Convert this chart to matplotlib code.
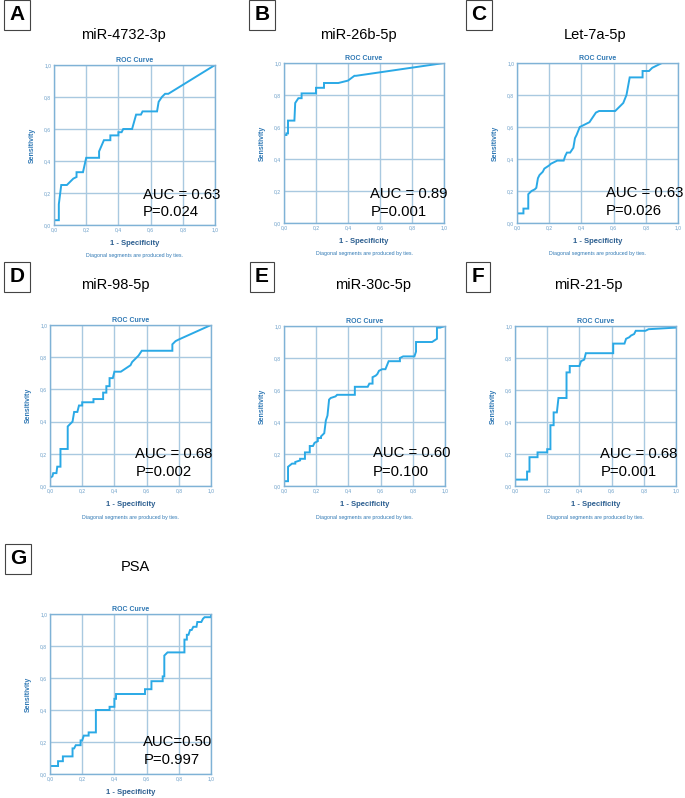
import matplotlib.pyplot as plt

W, H = 685, 798

labels = ['A', 'B', 'C', 'D', 'E', 'F', 'G']
names = ['miR-4732-3p', 'miR-26b-5p', 'Let-7a-5p', 'miR-98-5p', 'miR-30c-5p', 'miR-21-5p', 'PSA']
auc_text = ['AUC = 0.63', 'AUC = 0.89', 'AUC = 0.63', 'AUC = 0.68', 'AUC = 0.60', 'AUC = 0.68', 'AUC=0.50']
p_text = ['P=0.024', 'P=0.001', 'P=0.026', 'P=0.002', 'P=0.100', 'P=0.001', 'P=0.997']

# ROC curve vertices (1 - specificity, sensitivity)
fpr_a = [0, 0, 0.03, 0.03, 0.045, 0.08, 0.12, 0.14, 0.14, 0.18, 0.20, 0.28, 0.28, 0.31, 0.35, 0.35, 0.40, 0.40,
         0.42, 0.43, 0.485, 0.51, 0.54, 0.55, 0.64, 0.65, 0.67, 0.69, 0.71, 1.0]
tpr_a = [0, 0.03, 0.03, 0.13, 0.25, 0.25, 0.29, 0.30, 0.33, 0.33, 0.42, 0.42, 0.46, 0.53, 0.53, 0.56, 0.56, 0.58,
         0.58, 0.60, 0.60, 0.69, 0.69, 0.71, 0.71, 0.77, 0.80, 0.82, 0.82, 1.0]

fpr_b = [0, 0, 0.015, 0.015, 0.025, 0.025, 0.065, 0.07, 0.09, 0.11, 0.11, 0.20, 0.20, 0.25, 0.25, 0.34, 0.40,
         0.44, 0.45, 1.0]
tpr_b = [0, 0.55, 0.55, 0.56, 0.56, 0.64, 0.64, 0.75, 0.78, 0.78, 0.81, 0.81, 0.845, 0.845, 0.875, 0.875, 0.89,
         0.92, 0.92, 1.0]

fpr_c = [0, 0, 0.04, 0.04, 0.07, 0.07, 0.08, 0.09, 0.11, 0.12, 0.13, 0.14, 0.16, 0.17, 0.20, 0.21, 0.23, 0.25,
         0.29, 0.30, 0.31, 0.33, 0.35, 0.36, 0.37, 0.39, 0.45, 0.49, 0.51, 0.61, 0.63, 0.66, 0.68, 0.70, 0.78,
         0.78, 0.82, 0.84, 0.86, 0.88, 0.90, 1.0]
tpr_c = [0, 0.06, 0.06, 0.09, 0.09, 0.18, 0.19, 0.20, 0.21, 0.22, 0.28, 0.30, 0.32, 0.34, 0.36, 0.37, 0.38, 0.39,
         0.39, 0.42, 0.44, 0.44, 0.47, 0.53, 0.55, 0.60, 0.63, 0.69, 0.70, 0.70, 0.72, 0.75, 0.80, 0.91, 0.91,
         0.95, 0.95, 0.97, 0.98, 0.99, 1.0, 1.0]

fpr_d = [0, 0, 0.015, 0.02, 0.04, 0.045, 0.065, 0.065, 0.11, 0.11, 0.13, 0.14, 0.15, 0.17, 0.18, 0.20, 0.20,
         0.27, 0.27, 0.33, 0.33, 0.35, 0.35, 0.37, 0.37, 0.39, 0.40, 0.44, 0.50, 0.51, 0.55, 0.57, 0.76, 0.76,
         0.78, 0.80, 1.0]
tpr_d = [0, 0.05, 0.06, 0.08, 0.08, 0.12, 0.12, 0.23, 0.23, 0.37, 0.39, 0.40, 0.46, 0.46, 0.50, 0.50, 0.52,
         0.52, 0.54, 0.54, 0.58, 0.58, 0.62, 0.62, 0.67, 0.67, 0.71, 0.71, 0.75, 0.77, 0.81, 0.84, 0.84, 0.88,
         0.90, 0.91, 1.0]

fpr_e = [0, 0, 0.025, 0.025, 0.05, 0.07, 0.07, 0.10, 0.10, 0.13, 0.13, 0.16, 0.16, 0.18, 0.19, 0.21, 0.21,
         0.23, 0.23, 0.25, 0.26, 0.27, 0.28, 0.29, 0.32, 0.33, 0.44, 0.44, 0.52, 0.53, 0.55, 0.55, 0.57, 0.58,
         0.59, 0.61, 0.63, 0.65, 0.72, 0.72, 0.74, 0.81, 0.82, 0.82, 0.92, 0.95, 0.95, 0.97, 1.0]
tpr_e = [0, 0.03, 0.03, 0.12, 0.14, 0.14, 0.15, 0.16, 0.17, 0.17, 0.21, 0.21, 0.25, 0.25, 0.27, 0.28, 0.30,
         0.30, 0.31, 0.33, 0.41, 0.44, 0.54, 0.55, 0.56, 0.57, 0.57, 0.62, 0.62, 0.64, 0.64, 0.68, 0.69, 0.70,
         0.72, 0.73, 0.73, 0.78, 0.78, 0.80, 0.81, 0.81, 0.84, 0.90, 0.90, 0.92, 0.99, 0.99, 1.0]

fpr_f = [0, 0, 0.075, 0.075, 0.09, 0.09, 0.14, 0.14, 0.20, 0.20, 0.22, 0.22, 0.24, 0.24, 0.26, 0.27, 0.32,
         0.32, 0.34, 0.34, 0.40, 0.41, 0.43, 0.44, 0.61, 0.61, 0.68, 0.69, 0.71, 0.72, 0.74, 0.75, 0.81, 0.83, 1.0]
tpr_f = [0, 0.04, 0.04, 0.09, 0.09, 0.18, 0.18, 0.21, 0.21, 0.23, 0.23, 0.38, 0.38, 0.46, 0.46, 0.55, 0.55,
         0.71, 0.71, 0.75, 0.75, 0.78, 0.79, 0.83, 0.83, 0.89, 0.89, 0.92, 0.93, 0.94, 0.95, 0.97, 0.97, 0.98, 0.99]

fpr_g = [0, 0, 0.05, 0.05, 0.08, 0.08, 0.14, 0.14, 0.15, 0.16, 0.19, 0.19, 0.20, 0.21, 0.24, 0.24, 0.285, 0.285,
         0.37, 0.37, 0.40, 0.40, 0.41, 0.41, 0.59, 0.59, 0.63, 0.63, 0.70, 0.70, 0.71, 0.71, 0.73, 0.835, 0.835,
         0.85, 0.85, 0.86, 0.87, 0.88, 0.89, 0.91, 0.915, 0.94, 0.95, 0.96, 1.0, 1.0]
tpr_g = [0, 0.05, 0.05, 0.08, 0.08, 0.11, 0.11, 0.16, 0.16, 0.18, 0.18, 0.21, 0.21, 0.24, 0.24, 0.26, 0.26, 0.40,
         0.40, 0.42, 0.42, 0.47, 0.47, 0.50, 0.50, 0.53, 0.53, 0.58, 0.58, 0.61, 0.61, 0.74, 0.76, 0.76, 0.84,
         0.84, 0.87, 0.87, 0.90, 0.90, 0.92, 0.92, 0.95, 0.95, 0.97, 0.98, 0.98, 1.0]

fprs = [fpr_a, fpr_b, fpr_c, fpr_d, fpr_e, fpr_f, fpr_g]
tprs = [tpr_a, tpr_b, tpr_c, tpr_d, tpr_e, tpr_f, tpr_g]

ticks = [0, 0.2, 0.4, 0.6, 0.8, 1.0]
tick_labels = ['0,0', '0,2', '0,4', '0,6', '0,8', '1,0']

# layout in pixels: axes box (left, top, right, bottom), title centre, letter box centre
boxes = [(54, 65, 215, 225), (284, 63, 444, 223), (517, 63, 678, 223),
         (50, 325, 211, 486), (284, 326, 445, 486), (515, 326, 676, 486),
         (50, 614, 211, 774)]
title_pos = [(123, 35), (358, 35), (595, 35), (115, 285), (373, 285), (588, 285), (135, 567)]
letter_pos = [(17, 15), (262, 15), (479, 15), (17, 277), (262, 277), (478, 277), (18, 559)]
auc_pos = [(0.55, 0.19, 0.08), (0.54, 0.18, 0.07), (0.55, 0.19, 0.075), (0.53, 0.20, 0.09),
           (0.55, 0.205, 0.09), (0.53, 0.20, 0.09), (0.58, 0.20, 0.09)]

plt.rcParams['font.family'] = ['Liberation Sans', 'DejaVu Sans']

curve_col = '#2aa9e6'
grid_col = '#a9c9e0'
spine_col = '#7fb2d6'
text_col = '#2f78b4'

fig = plt.figure(figsize=(W / 100, H / 100), dpi=100)


def fx(px):
    return px / W


def fy(py):
    return 1 - py / H


for i in range(7):
    l, t, r, b = boxes[i]
    ax = fig.add_axes([fx(l), fy(b), fx(r) - fx(l), (b - t) / H])
    ax.plot(fprs[i], tprs[i], color=curve_col, lw=1.4, solid_joinstyle='miter')
    ax.set_xlim(0, 1)
    ax.set_ylim(0, 1)
    ax.set_xticks(ticks)
    ax.set_yticks(ticks)
    ax.set_xticklabels(tick_labels)
    ax.set_yticklabels(tick_labels)
    ax.tick_params(length=0, labelsize=3.6, labelcolor='#6a9ec8', pad=2)
    ax.grid(True, color=grid_col, lw=1.0)
    ax.set_axisbelow(True)
    for s in ax.spines.values():
        s.set_color(spine_col)
        s.set_linewidth(1.0)
    ax.set_title('ROC Curve', fontsize=5, fontweight='bold', color=text_col, pad=2)
    ax.set_ylabel('Sensitivity', fontsize=5, fontweight='bold', color=text_col, labelpad=6)
    ax.set_xlabel('1 - Specificity', fontsize=5.5, fontweight='bold', color='#2a5d8f', labelpad=5)

    ax_x, y1, y2 = auc_pos[i]
    ax.text(ax_x, y1, auc_text[i], transform=ax.transAxes, fontsize=10.7, va='center', ha='left', clip_on=False)
    ax.text(ax_x, y2, p_text[i], transform=ax.transAxes, fontsize=10.7, va='center', ha='left', clip_on=False)

    if i < 6:
        fig.text(fx((l + r) / 2), fy(b + 31), 'Diagonal segments are produced by ties.',
                 fontsize=3.8, color=text_col, ha='center', va='center')

    tx, ty = title_pos[i]
    fig.text(fx(tx), fy(ty), names[i], fontsize=10.5, ha='center', va='center')

    lx, ly = letter_pos[i]
    fig.text(fx(lx), fy(ly), labels[i], fontsize=15, fontweight='bold', ha='center', va='center',
             bbox=dict(boxstyle='square,pad=0.25', fc='white', ec='#444444', lw=0.8))

fig.savefig('out.png', dpi=100)
